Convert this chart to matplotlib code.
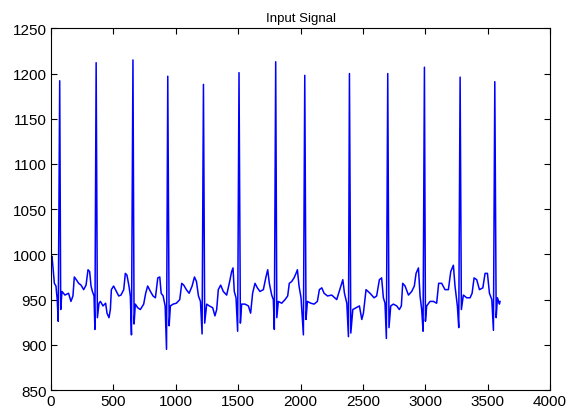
import matplotlib
matplotlib.use("Agg")
import matplotlib.pyplot as plt

# polyline (sample index, amplitude)
sample = [
    0, 8, 16, 27, 40, 50, 58, 70, 78, 88, 112, 141, 160, 176, 187, 203, 222, 241,
    262, 281, 297, 310, 321, 332, 345, 352, 362, 372,
    385, 396, 417, 438, 449, 465, 476, 484, 502, 524, 543, 561, 583, 596, 609,
    625, 636, 645, 657, 666,
    676, 695, 716, 743, 759, 775, 797, 818, 837, 856, 872, 883, 899, 915, 926,
    936, 947,
    957, 979, 1005, 1032, 1048, 1064, 1085, 1107, 1131, 1150, 1166, 1182, 1198,
    1211, 1222, 1232,
    1248, 1269, 1296, 1314, 1328, 1341, 1360, 1381, 1408, 1429, 1448, 1459,
    1469, 1483, 1496, 1507, 1518,
    1528, 1555, 1582, 1600, 1616, 1635, 1654, 1675, 1702, 1723, 1737, 1750,
    1769, 1782, 1790, 1801, 1810,
    1822, 1849, 1876, 1897, 1910, 1929, 1948, 1964, 1975, 1988, 2004, 2023,
    2034, 2044,
    2055, 2082, 2109, 2135, 2151, 2170, 2189, 2216, 2250, 2290, 2323, 2339,
    2352, 2371, 2384, 2392, 2403,
    2419, 2446, 2472, 2491, 2504, 2525, 2557, 2589, 2610, 2632, 2650, 2664,
    2677, 2688, 2699, 2709,
    2723, 2744, 2771, 2792, 2808, 2819, 2838, 2865, 2891, 2912, 2926, 2945,
    2958, 2971, 2982, 2993, 3001,
    3011, 3038, 3065, 3091, 3107, 3131, 3158, 3185, 3204, 3225, 3238, 3257,
    3268, 3279, 3289,
    3305, 3332, 3359, 3375, 3391, 3412, 3434, 3461, 3479, 3498, 3514, 3533,
    3546, 3557, 3568, 3578, 3594, 3599,
]
amplitude = [
    995, 998, 986, 968, 965, 950, 926, 1192, 939, 959, 955, 957, 948, 954, 975, 972, 968, 966,
    961, 966, 983, 981, 965, 959, 954, 917, 1212, 930,
    946, 948, 943, 946, 935, 930, 939, 961, 965, 959, 954, 955, 961, 979, 977,
    965, 954, 911, 1215, 923,
    945, 941, 939, 945, 957, 965, 959, 954, 952, 974, 975, 957, 954, 943, 895,
    1197, 921,
    943, 945, 946, 950, 968, 966, 961, 957, 965, 975, 970, 954, 948,
    912, 1188, 924,
    945, 943, 941, 932, 939, 961, 966, 959, 955, 968, 981, 985,
    959, 952, 915, 1201, 924,
    945, 945, 943, 935, 957, 968, 963, 959, 961, 975, 983, 968,
    955, 950, 917, 1213, 930,
    948, 946, 950, 954, 968, 970, 974, 979, 983, 965, 952, 911,
    1198, 928,
    948, 946, 945, 948, 961, 963, 957, 954, 955, 950, 965, 972,
    957, 946, 909, 1200, 913,
    939, 941, 943, 928, 935, 961, 957, 952, 954, 972, 974, 952,
    946, 907, 1200, 919,
    943, 945, 943, 939, 943, 968, 965, 955, 959, 965, 979, 985,
    954, 939, 915, 1207, 926,
    943, 948, 948, 946, 968, 968, 961, 961, 981, 988, 965, 943,
    919, 1196, 939,
    955, 952, 952, 957, 974, 972, 961, 963, 979, 979, 957, 950,
    916, 1191, 930, 952, 945, 948,
]

x_ticks = list(range(0, 4001, 500))
y_ticks = list(range(850, 1251, 50))

plt.rcParams["font.family"] = ["Liberation Sans", "DejaVu Sans"]

fig = plt.figure(figsize=(5.76, 4.10), dpi=100)
ax = fig.add_axes([0.0885, 0.0463, 0.8665, 0.8822])
ax.plot(sample, amplitude, color=(0, 0, 1), linewidth=1.1)

ax.set_xlim(0, 4000)
ax.set_ylim(850, 1250)
ax.set_xticks(x_ticks)
ax.set_yticks(y_ticks)
ax.tick_params(direction="in", length=4, width=0.8, labelsize=11,
               top=True, right=True, pad=3)
for spine in ax.spines.values():
    spine.set_linewidth(0.8)
ax.set_title("Input Signal", fontsize=9.5, pad=5)

fig.savefig("out.png", dpi=100)
